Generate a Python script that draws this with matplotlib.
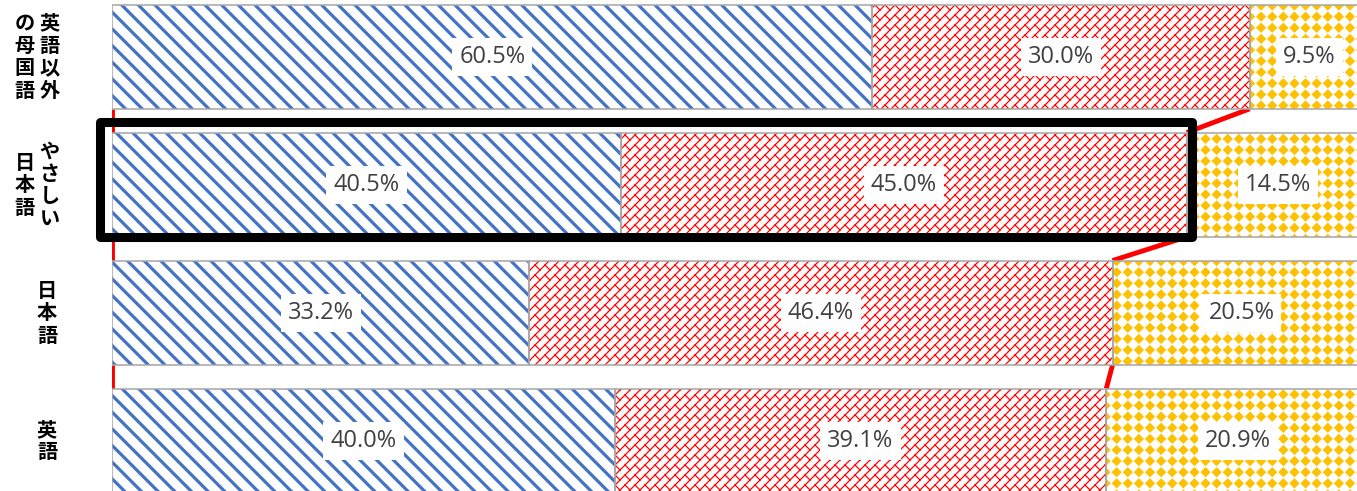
import warnings
import numpy as np
import matplotlib
matplotlib.use("Agg")
import matplotlib.pyplot as plt
import matplotlib.hatch as mhatch
from matplotlib.path import Path
from matplotlib.patches import Rectangle
from matplotlib.transforms import blended_transform_factory

warnings.filterwarnings("ignore")

# data, top row first
categories = ["英語以外の母国語", "やさしい日本語", "日本語", "英語"]
label_columns = [["英語以外", "の母国語"], ["やさしい", "日本語"], ["日本語"], ["英語"]]
blue_vals = [60.5, 40.5, 33.2, 40.0]
red_vals = [30.0, 45.0, 46.4, 39.1]
yellow_vals = [9.5, 14.5, 20.5, 20.9]
highlight_row = 1


# custom hatches: 'b' = diagonal bricks, 'd' = diamond grid
class BrickHatch(mhatch.HatchPatternBase):
    def __init__(self, hatch, density):
        n = hatch.count('b') * 10
        segs = []
        if n:
            step = 1.0 / n
            for k in range(-n - 1, n + 2):
                c = k * step
                segs.append(((-1.0, -1.0 + c), (2.0, 2.0 + c)))
            brick = 2.0 / n
            for k in range(-n - 1, n + 1):
                off = brick / 2 if k % 2 else 0.0
                v0, v1 = k * step, (k + 1) * step
                for m in range(-3, int(2 / brick) + 3):
                    u = m * brick + off
                    x0, y0 = (u - v0) / 2, (u + v0) / 2
                    x1, y1 = (u - v1) / 2, (u + v1) / 2
                    if max(x0, x1) < -0.2 or min(x0, x1) > 1.2:
                        continue
                    if max(y0, y1) < -0.2 or min(y0, y1) > 1.2:
                        continue
                    segs.append(((x0, y0), (x1, y1)))
        self.segs = segs
        self.num_vertices = 2 * len(segs)

    def set_vertices_and_codes(self, vertices, codes):
        for i, (a, b) in enumerate(self.segs):
            vertices[2 * i] = a
            vertices[2 * i + 1] = b
            codes[2 * i] = Path.MOVETO
            codes[2 * i + 1] = Path.LINETO


class DiamondHatch(mhatch.HatchPatternBase):
    def __init__(self, hatch, density):
        n = hatch.count('d') * 9
        self.centers = [((i + 0.5) / n, (j + 0.5) / n)
                        for i in range(n) for j in range(n)] if n else []
        self.r = 0.4 / n if n else 0
        self.num_vertices = 5 * len(self.centers)

    def set_vertices_and_codes(self, vertices, codes):
        r = self.r
        for i, (cx, cy) in enumerate(self.centers):
            vertices[5 * i:5 * i + 5] = [(cx, cy + r), (cx + r, cy), (cx, cy - r),
                                         (cx - r, cy), (cx, cy + r)]
            codes[5 * i:5 * i + 5] = [Path.MOVETO, Path.LINETO, Path.LINETO,
                                      Path.LINETO, Path.CLOSEPOLY]


mhatch._hatch_types.append(BrickHatch)
mhatch._hatch_types.append(DiamondHatch)

fig = plt.figure(figsize=(13.57, 4.91), dpi=100)
ax = fig.add_axes([112 / 1357, 0, 1257 / 1357, 1])
ax.set_xlim(0, 100)
ax.set_ylim(3.393, -0.443)
ax.axis('off')

y = np.arange(len(categories))
bar_h = 0.815
left = np.zeros(len(categories))
series = [
    (blue_vals, '#4472C4', '\\\\', 2.3),
    (red_vals, '#FF0000', 'b', 0.9),
    (yellow_vals, '#FFC000', 'd', 0.7),
]
for vals, color, hatch, hlw in series:
    vals = np.array(vals)
    with plt.rc_context({'hatch.linewidth': hlw}):
        bars = ax.barh(y, vals, left=left, height=bar_h, color='white',
                       edgecolor=color, hatch=hatch, linewidth=0, zorder=2)
    for b in bars:
        if hasattr(b, 'set_hatch_linewidth'):
            b.set_hatch_linewidth(hlw)
    ax.barh(y, vals, left=left, height=bar_h, fill=False,
            edgecolor='#A6A6A6', linewidth=1.1, zorder=3)
    for yi, l, v in zip(y, left, vals):
        ax.text(l + v / 2, yi, f"{v:.1f}%", ha='center', va='center',
                fontsize=17, color='#404040', family='Open Sans', zorder=5,
                bbox=dict(boxstyle='square,pad=0.3', fc='white', ec='none'))
    left = left + vals

# series lines (red) at the start and at the end of the second segment
cum2 = np.array(blue_vals) + np.array(red_vals)
for i in range(len(categories) - 1):
    for bnd in (np.zeros(len(categories)), cum2):
        ax.plot([bnd[i], bnd[i + 1]], [i + bar_h / 2, i + 1 - bar_h / 2],
                color='red', lw=3.5, zorder=1, solid_capstyle='butt')

# highlight box round the "やさしい日本語" row
ax.add_patch(Rectangle((-0.95, highlight_row - 0.49), 86.85, 0.9, fill=False,
                       ec='black', lw=6.5, joinstyle='round', clip_on=False,
                       zorder=6))

# vertical Japanese category labels
trans = blended_transform_factory(fig.transFigure, ax.transData)
for yi, cols in zip(y, label_columns):
    if len(cols) == 1:
        xs = [47]
    else:
        xs = [49.5, 24.5]
    for x, col in zip(xs, cols):
        ax.text(x / 1357, yi, "\n".join(col), transform=trans, ha='center',
                va='center', fontsize=14.5, fontweight='bold', linespacing=1.08,
                family=['Noto Sans CJK JP', 'DejaVu Sans'], clip_on=False)

fig.savefig("out.png", dpi=100)
